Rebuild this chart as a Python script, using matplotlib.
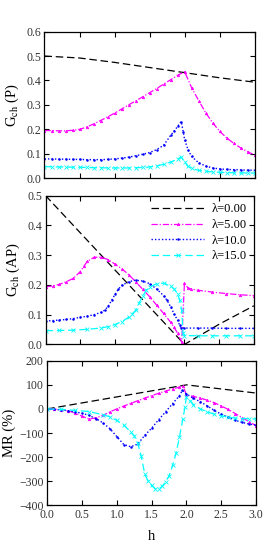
import matplotlib
matplotlib.use("Agg")
import matplotlib.pyplot as plt

plt.rcParams['font.family'] = ['Liberation Serif', 'DejaVu Serif']
plt.rcParams['mathtext.fontset'] = 'stix'

labels = ["λ=0.00", "λ=5.00", "λ=10.0", "λ=15.0"]

# ---------------- G_ch (P) ----------------
hP0 = [0.0, 0.5, 1.0, 1.5, 2.0, 2.5, 3.0]
gP0 = [0.500, 0.492, 0.474, 0.453, 0.432, 0.411, 0.393]

hP5 = [0.0, 0.1, 0.2, 0.3, 0.4, 0.5, 0.6, 0.7, 0.8, 0.9, 1.0, 1.1, 1.2, 1.3, 1.4, 1.5,
       1.6, 1.7, 1.8, 1.9, 2.0, 2.1, 2.2, 2.3, 2.4, 2.5, 2.6, 2.7, 2.8, 2.9, 3.0]
gP5 = [0.195, 0.195, 0.194, 0.194, 0.196, 0.200, 0.209, 0.222, 0.236, 0.251, 0.266, 0.283,
       0.300, 0.316, 0.333, 0.350, 0.367, 0.385, 0.403, 0.421, 0.436, 0.370, 0.318, 0.268,
       0.227, 0.192, 0.165, 0.143, 0.124, 0.108, 0.095]

hP10 = [0.0, 0.1, 0.2, 0.3, 0.4, 0.5, 0.6, 0.7, 0.8, 0.9, 1.0, 1.1, 1.2, 1.3, 1.4, 1.5,
        1.6, 1.7, 1.8, 1.85, 1.9, 1.95, 1.98, 2.0, 2.05, 2.1, 2.2, 2.3, 2.4, 2.5, 2.6, 2.7,
        2.8, 2.9, 3.0]
gP10 = [0.079, 0.079, 0.078, 0.078, 0.077, 0.077, 0.076, 0.076, 0.076, 0.077, 0.079, 0.082,
        0.086, 0.092, 0.098, 0.105, 0.117, 0.135, 0.175, 0.193, 0.212, 0.232, 0.190, 0.158,
        0.115, 0.089, 0.063, 0.050, 0.042, 0.038, 0.036, 0.035, 0.034, 0.033, 0.033]

hP15 = [0.0, 0.1, 0.2, 0.3, 0.4, 0.5, 0.6, 0.7, 0.8, 0.9, 1.0, 1.1, 1.2, 1.3, 1.4, 1.5,
        1.6, 1.7, 1.8, 1.9, 1.95, 2.0, 2.05, 2.1, 2.2, 2.3, 2.4, 2.5, 2.6, 2.7, 2.8, 2.9, 3.0]
gP15 = [0.047, 0.047, 0.046, 0.046, 0.045, 0.045, 0.044, 0.043, 0.043, 0.042, 0.042, 0.042,
        0.042, 0.043, 0.044, 0.046, 0.050, 0.057, 0.066, 0.078, 0.087, 0.065, 0.048, 0.040,
        0.032, 0.028, 0.026, 0.024, 0.023, 0.022, 0.022, 0.021, 0.021]

# ---------------- G_ch (AP) ----------------
hA0 = [0.0, 0.5, 1.0, 1.5, 2.0, 2.5, 3.0]
gA0 = [0.500, 0.375, 0.250, 0.125, 0.000, 0.068, 0.130]

hA5 = [0.0, 0.1, 0.2, 0.3, 0.4, 0.5, 0.55, 0.6, 0.7, 0.8, 0.9, 1.0, 1.1, 1.2, 1.3, 1.4,
       1.5, 1.6, 1.7, 1.8, 1.85, 1.9, 1.96, 2.0, 2.05, 2.1, 2.2, 2.4, 2.6, 2.8, 3.0]
gA5 = [0.194, 0.196, 0.202, 0.211, 0.222, 0.245, 0.262, 0.279, 0.293, 0.293, 0.285, 0.270,
       0.254, 0.234, 0.210, 0.185, 0.160, 0.132, 0.104, 0.075, 0.058, 0.038, 0.008, 0.205,
       0.190, 0.186, 0.182, 0.176, 0.171, 0.167, 0.164]

hA10 = [0.0, 0.1, 0.2, 0.3, 0.4, 0.5, 0.6, 0.7, 0.8, 0.85, 0.9, 0.95, 1.0, 1.05, 1.1, 1.2,
        1.3, 1.4, 1.5, 1.6, 1.7, 1.75, 1.8, 1.85, 1.9, 1.93, 1.95, 2.0, 2.2, 2.4, 2.6, 2.8, 3.0]
gA10 = [0.079, 0.080, 0.082, 0.084, 0.087, 0.091, 0.095, 0.100, 0.108, 0.115, 0.128, 0.148,
        0.168, 0.186, 0.199, 0.211, 0.216, 0.213, 0.204, 0.186, 0.164, 0.148, 0.127, 0.103,
        0.082, 0.065, 0.056, 0.055, 0.055, 0.055, 0.054, 0.054, 0.054]

hA15 = [0.0, 0.2, 0.4, 0.6, 0.8, 0.9, 1.0, 1.1, 1.2, 1.25, 1.3, 1.35, 1.4, 1.45, 1.5, 1.6,
        1.7, 1.8, 1.85, 1.9, 1.93, 1.96, 1.98, 2.0, 2.2, 2.4, 2.6, 2.8, 3.0]
gA15 = [0.046, 0.047, 0.048, 0.051, 0.055, 0.060, 0.067, 0.077, 0.092, 0.103, 0.115, 0.140,
        0.163, 0.182, 0.193, 0.204, 0.206, 0.196, 0.187, 0.170, 0.150, 0.115, 0.040, 0.030,
        0.029, 0.029, 0.029, 0.029, 0.029]

# ---------------- MR (%) ----------------
hM0 = [0.0, 0.5, 1.0, 1.5, 2.0, 2.5, 3.0]
mr0 = [0, 25, 50, 75, 100, 83, 66]

hM5 = [0.0, 0.1, 0.2, 0.3, 0.4, 0.5, 0.6, 0.7, 0.8, 0.9, 1.0, 1.1, 1.2, 1.3, 1.4, 1.5,
       1.6, 1.7, 1.8, 1.9, 1.95, 2.0, 2.1, 2.2, 2.3, 2.4, 2.5, 2.6, 2.7, 2.8, 2.9, 3.0]
mr5 = [0, -1, -3, -8, -17, -30, -42, -37, -27, -12, 0, 12, 23, 34, 45, 55,
       65, 74, 83, 91, 95, 58, 52, 45, 36, 26, 12, -2, -19, -36, -53, -70]

hM10 = [0.0, 0.1, 0.2, 0.3, 0.4, 0.5, 0.6, 0.7, 0.8, 0.9, 1.0, 1.1, 1.2, 1.3, 1.4, 1.5,
        1.6, 1.7, 1.8, 1.9, 1.94, 2.0, 2.1, 2.2, 2.3, 2.4, 2.5, 2.6, 2.7, 2.8, 2.9, 3.0]
mr10 = [0, -2, -4, -7, -12, -18, -27, -40, -58, -82, -115, -148, -157, -146, -110, -80,
        -45, -12, 22, 55, 77, 62, 44, 30, 12, -6, -22, -35, -47, -56, -63, -67]

hM15 = [0.0, 0.2, 0.4, 0.6, 0.8, 0.9, 1.0, 1.1, 1.2, 1.25, 1.3, 1.35, 1.4, 1.45, 1.5, 1.55,
        1.6, 1.65, 1.7, 1.75, 1.8, 1.85, 1.9, 1.95, 1.98, 2.0, 2.05, 2.1, 2.2, 2.3, 2.4, 2.5,
        2.6, 2.7, 2.8, 2.9, 3.0]
mr15 = [0, -2, -6, -11, -24, -33, -48, -67, -96, -112, -143, -195, -270, -300, -318, -332,
        -333, -322, -302, -278, -235, -185, -116, -40, 10, 50, 35, 18, 0, -12, -22, -29,
        -34, -38, -40, -41, -42]

styles = [
    dict(color='black', ls=(0, (6, 3)), lw=0.9),
    dict(color='#ff00ff', ls=(0, (5, 1.5, 1, 1.5)), lw=0.9, marker='^', ms=1.8, mew=0.5),
    dict(color='#0000ff', ls=(0, (1, 1.5)), lw=1.0, marker='o', ms=1.8, mew=0),
    dict(color='#00ffff', ls=(0, (6, 3)), lw=0.9, marker='x', ms=3, mew=0.6),
]

fig = plt.figure(figsize=(2.73, 5.45), dpi=100)
ax1 = fig.add_axes([0.163, 0.673, 0.770, 0.269])
ax2 = fig.add_axes([0.167, 0.368, 0.763, 0.273])
ax3 = fig.add_axes([0.173, 0.073, 0.765, 0.265])

data1 = [(hP0, gP0), (hP5, gP5), (hP10, gP10), (hP15, gP15)]
data2 = [(hA0, gA0), (hA5, gA5), (hA10, gA10), (hA15, gA15)]
data3 = [(hM0, mr0), (hM5, mr5), (hM10, mr10), (hM15, mr15)]

for ax, data in [(ax1, data1), (ax2, data2), (ax3, data3)]:
    for (x, y), st, lab in zip(data, styles, labels):
        ax.plot(x, y, label=lab, **st)
    ax.set_xlim(0, 3)
    ax.set_xticks([0, 0.5, 1.0, 1.5, 2.0, 2.5, 3.0])
    ax.tick_params(direction='in', top=True, right=True, length=3.5, width=0.8,
                   labelsize=8.5, pad=2.5, labelcolor='#333333')
    for s in ax.spines.values():
        s.set_linewidth(0.9)

ax1.set_ylim(0, 0.6)
ax1.set_yticks([0.0, 0.1, 0.2, 0.3, 0.4, 0.5, 0.6])
ax1.set_yticklabels(['0.0', '0.1', '0.2', '0.3', '0.4', '0.5', '0.6'])
ax1.tick_params(labelbottom=False)
ax1.set_ylabel(r'G$_{\rm ch}$ (P)', fontsize=10.5, labelpad=4)

ax2.set_ylim(0, 0.5)
ax2.set_yticks([0.0, 0.1, 0.2, 0.3, 0.4, 0.5])
ax2.set_yticklabels(['0.0', '0.1', '0.2', '0.3', '0.4', '0.5'])
ax2.tick_params(labelbottom=False)
ax2.set_ylabel(r'G$_{\rm ch}$ (AP)', fontsize=10.5, labelpad=4)
ax2.legend(loc='upper right', frameon=False, fontsize=9, handlelength=4.2,
           handletextpad=0.6, labelspacing=0.3, borderaxespad=0.2)

ax3.set_ylim(-400, 200)
ax3.set_yticks([-400, -300, -200, -100, 0, 100, 200])
ax3.set_xticklabels(['0.0', '0.5', '1.0', '1.5', '2.0', '2.5', '3.0'])
ax3.set_ylabel('MR (%)', fontsize=10.5, labelpad=2)
ax3.set_xlabel('h', fontsize=10.5, labelpad=7)

fig.savefig('out.png', dpi=100)
